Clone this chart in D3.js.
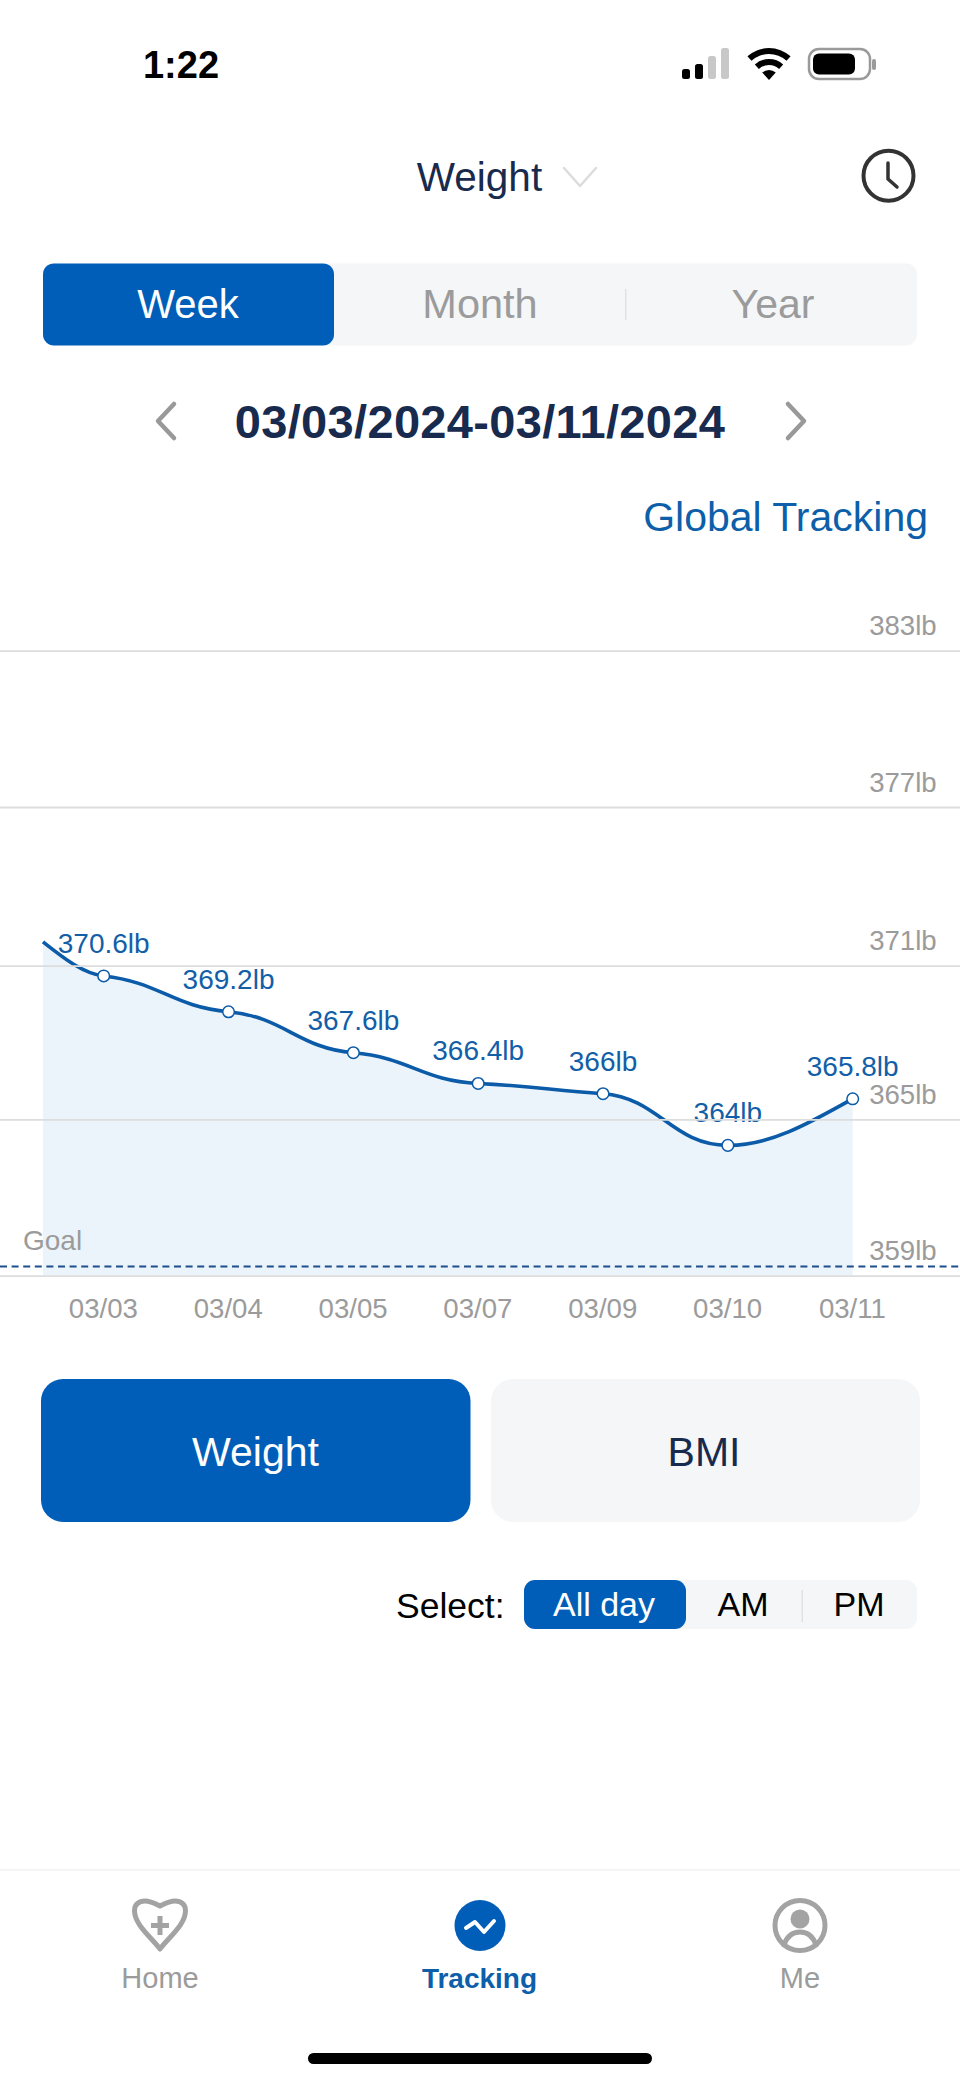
<!DOCTYPE html>
<html>
<head>
<meta charset="utf-8">
<script src="https://cdn.jsdelivr.net/npm/d3@7"></script>
<style>
  html, body { margin: 0; padding: 0; background: #fff; }
  svg { display: block; }
  text { font-family: "Liberation Sans", Arial, sans-serif; }
</style>
</head>
<body>
<div id="chart-area"></div>
<script>
// chart values
var dates = ["03/03", "03/04", "03/05", "03/07", "03/09", "03/10", "03/11"];
var weights = [370.6, 369.2, 367.6, 366.4, 366, 364, 365.8];
var valueLabels = ["370.6lb", "369.2lb", "367.6lb", "366.4lb", "366lb", "364lb", "365.8lb"];
var yTicks = [383, 377, 371, 365, 359];
var leadInWeight = 371.9;  // line comes in from off the left of the first day
var goalWeight = 359.35;

var blue = "#005eb8";
var lineBlue = "#0b5ba8";
var navy = "#182a4e";
var gray = "#9b9b9b";
var panel = "#f4f6f8";

var svg = d3.select("#chart-area")
  .append("svg")
    .attr("width", 960)
    .attr("height", 2082);

function label(txt, x, y, size, fill, anchor, weight) {
  return svg.append("text")
    .attr("x", x)
    .attr("y", y)
    .attr("font-size", size)
    .attr("fill", fill)
    .attr("text-anchor", anchor || "middle")
    .attr("font-weight", weight || 400)
    .text(txt);
}

function box(x, y, w, h, r, fill) {
  return svg.append("rect")
    .attr("x", x).attr("y", y)
    .attr("width", w).attr("height", h)
    .attr("rx", r)
    .attr("fill", fill);
}

function stroke(d, color, width) {
  return svg.append("path")
    .attr("d", d)
    .attr("fill", "none")
    .attr("stroke", color)
    .attr("stroke-width", width)
    .attr("stroke-linecap", "round")
    .attr("stroke-linejoin", "round");
}

// status bar
label("1:22", 181, 78, 38, "#000", "middle", 700);
[[682, 10, "#000"], [695, 15, "#000"], [708, 23, "#c8c8c8"], [721, 31, "#c8c8c8"]].forEach(function(b) {
  box(b[0], 79 - b[1], 8, b[1], 2.5, b[2]);
});
var wifi = d3.arc().startAngle(-0.74).endAngle(0.74);
[[0, 10], [15, 21], [26, 32]].forEach(function(r) {
  svg.append("path")
    .attr("transform", "translate(769,80)")
    .attr("d", wifi({ innerRadius: r[0], outerRadius: r[1] }))
    .attr("fill", "#000");
});
svg.append("rect").attr("x", 809).attr("y", 49).attr("width", 61).attr("height", 30).attr("rx", 10)
  .attr("fill", "none").attr("stroke", "#9a9a9a").attr("stroke-width", 2.5);
box(813, 53.5, 42, 21, 6, "#000");
box(872, 59, 4, 11, 2, "#9a9a9a");

// header
label("Weight", 479.5, 191, 40.5, navy);
stroke("M564,168L580,186L596,168", "#dcdcdc", 2.5);
svg.append("circle").attr("cx", 888.5).attr("cy", 175.7).attr("r", 25)
  .attr("fill", "none").attr("stroke", "#333").attr("stroke-width", 4);
stroke("M888,163L888,179L897,187", "#333", 3.5);

// week / month / year tabs
box(43, 263.4, 874, 82, 11, panel);
box(43, 263.4, 291, 82, 11, blue);
label("Week", 188, 317.5, 40, "#fff");
label("Month", 480, 317.5, 41.5, gray);
label("Year", 773, 317.5, 41, gray);
box(625, 289, 1.5, 31, 0, "#dfe1e4");

// date range
label("03/03/2024-03/11/2024", 480, 437.5, 47, navy, "middle", 700).attr("letter-spacing", 0.33);
stroke("M174,404L158,421L174,438", "#999", 4.5);
stroke("M788,404L804,421L788,438", "#999", 4.5);
label("Global Tracking", 928, 531, 41, "#0d5fa9", "end");

// chart scales, the gridlines in the picture are not quite evenly spaced
var x = d3.scalePoint().domain(dates).range([103.7, 852.7]);
var y = d3.scaleLinear()
  .domain([359, 365, 371, 377, 383])
  .range([1275.7, 1119.3, 965.7, 807, 650.6]);

// hermite curve, nearly flat through each day, free at both ends
function softCurve(context) {
  return {
    areaStart: function() { this._line = 0; },
    areaEnd: function() { this._line = NaN; },
    lineStart: function() { this._pts = []; },
    point: function(px, py) { this._pts.push([+px, +py]); },
    lineEnd: function() {
      var p = this._pts, n = p.length, slopes = [];
      for (var i = 1; i < n - 1; i++) {
        slopes[i] = 0.3 * (p[i + 1][1] - p[i - 1][1]) / (p[i + 1][0] - p[i - 1][0]);
      }
      slopes[0] = 1.5 * (p[1][1] - p[0][1]) / (p[1][0] - p[0][0]) - slopes[1] / 2;
      slopes[n - 1] = 1.5 * (p[n - 1][1] - p[n - 2][1]) / (p[n - 1][0] - p[n - 2][0]) - slopes[n - 2] / 2;
      if (this._line) context.lineTo(p[0][0], p[0][1]);
      else context.moveTo(p[0][0], p[0][1]);
      for (var j = 1; j < n; j++) {
        var k = (j === 1 || j === n - 1) ? 0.34 : 0.45;
        var dx = (p[j][0] - p[j - 1][0]) * k;
        context.bezierCurveTo(
          p[j - 1][0] + dx, p[j - 1][1] + dx * slopes[j - 1],
          p[j][0] - dx, p[j][1] - dx * slopes[j],
          p[j][0], p[j][1]);
      }
      if (this._line) context.closePath();
      this._line = 1 - this._line;
    }
  };
}

var leadX = x(dates[0]) - x.step() * 0.486;
var series = [{ px: leadX, v: leadInWeight }].concat(dates.map(function(d, i) {
  return { px: x(d), v: weights[i] };
}));

var area = d3.area()
  .x(function(d) { return d.px; })
  .y0(y(359))
  .y1(function(d) { return y(d.v); })
  .curve(softCurve);

var line = d3.line()
  .x(function(d) { return d.px; })
  .y(function(d) { return y(d.v); })
  .curve(softCurve);

svg.append("path")
  .attr("d", area(series))
  .attr("fill", "#ebf3fb");

svg.append("path")
  .attr("d", line(series))
  .attr("fill", "none")
  .attr("stroke", lineBlue)
  .attr("stroke-width", 3.6);

svg.selectAll("circle.pt")
  .data(weights)
  .enter().append("circle")
    .attr("class", "pt")
    .attr("cx", function(d, i) { return x(dates[i]); })
    .attr("cy", function(d) { return y(d); })
    .attr("r", 5.8)
    .attr("fill", "#fff")
    .attr("stroke", lineBlue)
    .attr("stroke-width", 1.5);

svg.selectAll("text.val")
  .data(weights)
  .enter().append("text")
    .attr("class", "val")
    .attr("x", function(d, i) { return x(dates[i]); })
    .attr("y", function(d) { return y(d) - 23; })
    .attr("text-anchor", "middle")
    .attr("font-size", 28)
    .attr("fill", "#125fa8")
    .text(function(d, i) { return valueLabels[i]; });

// gridlines sit on top of the line and the labels
var grid = svg.append("g")
  .attr("transform", "translate(960,0)")
  .call(d3.axisLeft(y).tickValues(yTicks).tickSize(960).tickFormat(""));
grid.select(".domain").remove();
grid.selectAll("line").attr("stroke", "#dddddd").attr("stroke-width", 1.8);

var yAxis = svg.append("g")
  .attr("transform", "translate(936.7,0)")
  .call(d3.axisLeft(y).tickValues(yTicks).tickSize(0).tickPadding(0)
    .tickFormat(function(d) { return d + "lb"; }));
yAxis.select(".domain").remove();
yAxis.selectAll("text")
  .attr("dy", "-16")
  .attr("font-size", 27.6)
  .attr("font-family", "Liberation Sans")
  .attr("fill", gray);

var xAxis = svg.append("g")
  .attr("transform", "translate(0,1317.7)")
  .call(d3.axisBottom(x).tickSize(0).tickPadding(0));
xAxis.select(".domain").remove();
xAxis.selectAll("text")
  .attr("y", 0)
  .attr("dy", 0)
  .attr("dx", -0.8)
  .attr("font-size", 27.6)
  .attr("font-family", "Liberation Sans")
  .attr("fill", gray);

// goal
svg.append("line")
  .attr("x1", 0)
  .attr("x2", 960)
  .attr("y1", y(goalWeight))
  .attr("y2", y(goalWeight))
  .attr("stroke", "#1d4f8c")
  .attr("stroke-width", 2)
  .attr("stroke-dasharray", "7,4.6");
label("Goal", 23, 1250, 28, gray, "start");

// weight / bmi buttons
box(41, 1379, 429.5, 143, 22, blue);
box(491, 1379, 429, 143, 22, panel);
label("Weight", 255.5, 1466, 41, "#fff");
label("BMI", 704, 1466, 41, navy);

// select control
label("Select:", 396, 1618, 35.5, "#000", "start");
box(524, 1580, 393, 49, 11, panel);
box(524, 1580, 162, 49, 11, blue);
label("All day", 604, 1616, 34, "#fff");
label("AM", 743, 1616, 34, "#000");
label("PM", 859, 1616, 34, "#000");
box(801.5, 1590, 1.5, 32, 0, "#dfe1e4");

// bottom nav
box(0, 1869, 960, 1.5, 0, "#f2f2f2");
stroke("M160,1949C150,1936 135,1925 134.5,1911C134.5,1904 139,1901 145,1901C151,1901 156,1904 160,1906C164,1904 169,1901 175,1901C181,1901 185.5,1904 185.5,1911C185,1925 170,1936 160,1949Z", "#a3a3a3", 5);
stroke("M160,1916L160,1935M151,1925.5L169,1925.5", "#a3a3a3", 5).attr("stroke-linecap", "butt");
label("Home", 160, 1988, 29, gray);

svg.append("circle").attr("cx", 480).attr("cy", 1925.5).attr("r", 25.5).attr("fill", blue);
stroke("M466,1928L475,1922L484,1932L494,1921", "#fff", 4);
label("Tracking", 479.5, 1988, 28, "#0d5fa9", "middle", 700);

svg.append("circle").attr("cx", 800).attr("cy", 1925.5).attr("r", 25)
  .attr("fill", "none").attr("stroke", "#a3a3a3").attr("stroke-width", 5);
svg.append("circle").attr("cx", 800).attr("cy", 1919).attr("r", 9.5).attr("fill", "#a3a3a3");
stroke("M784,1945C787,1936 793,1932 800,1932C807,1932 813,1936 816,1945", "#a3a3a3", 5);
label("Me", 800, 1988, 29, gray);

box(308, 2053, 344, 11, 5.5, "#000");
</script>
</body>
</html>
